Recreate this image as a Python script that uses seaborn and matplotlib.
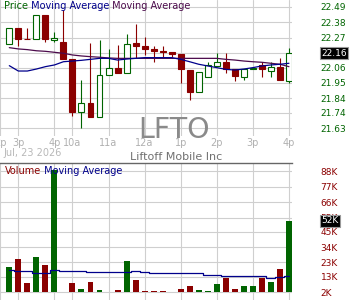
import matplotlib
matplotlib.use("Agg")
import numpy as np
import matplotlib.pyplot as plt
import seaborn as sns

# ================= data =================
opens = [22.225, 22.339, 22.264, 22.263, 22.433, 22.258, 22.239, 22.118, 21.742, 21.806,
         21.706, 22.005, 22.057, 22.019, 22.232, 22.213, 22.189, 22.177, 22.168, 22.154,
         22.042, 21.886, 21.990, 22.073, 22.097, 22.047, 21.995, 22.050, 22.078, 22.037,
         22.066, 21.966]
highs = [22.343, 22.339, 22.339, 22.433, 22.433, 22.312, 22.469, 22.118, 21.971, 22.236,
         22.255, 22.192, 22.220, 22.298, 22.367, 22.275, 22.215, 22.215, 22.168, 22.154,
         22.042, 22.026, 22.097, 22.165, 22.165, 22.047, 22.047, 22.057, 22.097, 22.097,
         22.125, 22.196]
lows = [22.225, 22.213, 22.262, 22.263, 22.239, 22.239, 22.123, 21.715, 21.628, 21.710,
        21.706, 22.005, 22.023, 22.019, 22.128, 22.149, 22.097, 22.137, 22.133, 21.948,
        21.829, 21.886, 21.990, 22.073, 22.023, 21.966, 21.971, 22.050, 21.990, 21.995,
        21.971, 21.948]
closes = [22.343, 22.263, 22.262, 22.433, 22.263, 22.272, 22.123, 21.746, 21.806, 21.710,
          22.005, 22.054, 22.023, 22.227, 22.215, 22.194, 22.177, 22.170, 22.154, 22.047,
          21.888, 22.026, 22.078, 22.097, 22.047, 22.000, 22.047, 22.057, 22.047, 22.066,
          21.971, 22.161]

ma_blue = [22.073, 22.035, 22.035, 22.049, 22.066, 22.078, 22.101, 22.106, 22.111, 22.118,
           22.125, 22.125, 22.113, 22.120, 22.125, 22.130, 22.130, 22.130, 22.130, 22.118,
           22.101, 22.083, 22.071, 22.059, 22.047, 22.042, 22.049, 22.059, 22.071, 22.078,
           22.083, 22.090]
ma_purple = [22.201, 22.192, 22.187, 22.179, 22.175, 22.168, 22.161, 22.149, 22.142, 22.137,
             22.133, 22.128, 22.125, 22.125, 22.125, 22.125, 22.125, 22.125, 22.125, 22.125,
             22.125, 22.125, 22.125, 22.125, 22.118, 22.113, 22.106, 22.101, 22.097, 22.090,
             22.083, 22.066]

volumes = [19800, 25500, 8400, 26900, 21200, 88500, 0, 8400, 4100, 9100,
           3400, 0, 3400, 24000, 10500, 2700, 2700, 2700, 0, 4100,
           6500, 3400, 2700, 7700, 12000, 4100, 6300, 6300, 12000, 9100,
           18600, 52700]
vol_ma = [17700, 16700, 16700, 15300, 15300, 17400, 16700, 16700, 16700, 16000,
          16000, 16000, 16000, 16000, 16700, 16000, 15300, 15300, 15300, 15300,
          15300, 15300, 13900, 13900, 13200, 13200, 13200, 13200, 13200, 12000,
          12700, 13400]

time_ticks = [-1, 1, 5, 7, 11, 15, 19, 23, 27, 31]
time_labels = ["2p", "3p", "4p", "10a", "11a", "12a", "1p", "2p", "3p", "4p"]
price_ticks = [22.49, 22.38, 22.27, 22.16, 22.06, 21.95, 21.84, 21.74, 21.63]
vol_ticks = [88000, 77000, 66000, 55000, 45000, 34000, 23000, 13000, 2000]
vol_labels = ["88K", "77K", "66K", "55K", "45K", "34K", "23K", "13K", "2K"]
last_price_label = "22.16"
last_vol_label = "52K"
vol_base = 2000
# ============================================================

GREEN = "#006400"
RED = "#8b0000"
NAVY = "#00008b"
PURPLE = "#4b0a4b"
GRID = "#cfcfcf"

sns.set_theme(style="white")
plt.rcParams["font.family"] = ["DejaVu Sans"]

W, H = 350, 300
fig = plt.figure(figsize=(3.5, 3.0), dpi=100, facecolor="white")

# pixel layout
plot_w = 292
ax = fig.add_axes([0, (H - 136) / H, plot_w / W, 136 / H])
axv = fig.add_axes([0, 0, plot_w / W, 137 / H])

x = np.arange(len(opens))
o = np.array(opens)
c = np.array(closes)
up = c >= o
edge = np.where(up, GREEN, RED)
face = np.where(up, "white", RED)

# price panel
ax.vlines(x, lows, highs, colors=edge, lw=0.8, zorder=3)
ax.bar(x, np.abs(c - o), bottom=np.minimum(o, c), width=0.66, color=face,
       edgecolor=edge, linewidth=0.8, zorder=4)
sns.lineplot(x=x, y=ma_purple, color=PURPLE, lw=0.9, ax=ax, zorder=5)
sns.lineplot(x=x, y=ma_blue, color=NAVY, lw=0.9, ax=ax, zorder=6)

ax.set_xlim(-1.031, 31.34)
ax.set_ylim(21.5732, 22.5397)
ax.set_xticks(time_ticks)
ax.set_xticklabels(time_labels)
ax.set_yticks(price_ticks)
ax.set_yticklabels([f"{v:.2f}" for v in price_ticks])
ax.yaxis.tick_right()
ax.tick_params(axis="y", length=0, pad=20.5, labelsize=6.5, labelcolor=GREEN)
ax.tick_params(axis="x", length=0, pad=1.5, labelsize=7, labelcolor="#b0b0b0")
ax.grid(True, color=GRID, lw=0.8)
ax.set_axisbelow(True)
for s in ax.spines.values():
    s.set_visible(False)
ax.set_xlabel("")
ax.set_ylabel("")

# watermark symbol, baseline near the bottom of the price panel
fig.text(174 / W, 1 - 138 / H, "LFTO", ha="center", va="baseline",
         fontsize=20.5, color="#8a8a8a", zorder=0.5)
ax.text(1 + 29 / plot_w, 22.161, last_price_label, transform=ax.get_yaxis_transform(),
        ha="left", va="center", fontsize=6.5, color="white", zorder=10,
        bbox=dict(boxstyle="square,pad=0.15", fc="black", ec="#999999", lw=0.8))

# volume panel
vol = np.array(volumes)
axv.bar(x, np.clip(vol - vol_base, 0, None), bottom=vol_base, width=0.66,
        color=edge, linewidth=0, zorder=3)
sns.lineplot(x=x, y=vol_ma, color=NAVY, lw=0.9, ax=axv, drawstyle="steps-mid", zorder=5)
axv.set_xlim(-1.031, 31.34)
axv.set_ylim(-3690, 93800)
axv.set_xticks(time_ticks)
axv.set_xticklabels([])
axv.set_yticks(vol_ticks)
axv.set_yticklabels(vol_labels)
axv.yaxis.tick_right()
axv.tick_params(axis="y", length=0, pad=20.5, labelsize=6.5, labelcolor=RED)
axv.tick_params(axis="x", length=0)
axv.grid(True, color=GRID, lw=0.8)
axv.set_axisbelow(True)
for name, s in axv.spines.items():
    s.set_visible(name == "top")
axv.spines["top"].set_color("#666666")
axv.spines["top"].set_linewidth(1.0)
axv.set_xlabel("")
axv.set_ylabel("")
axv.text(1 + 29 / plot_w, volumes[-1], last_vol_label, transform=axv.get_yaxis_transform(),
         ha="left", va="center", fontsize=6.5, color="white", zorder=10,
         bbox=dict(boxstyle="square,pad=0.15", fc="black", ec="#999999", lw=0.8))

# titles and captions
t = fig.text(4 / W, 1 - 6 / H, "Price", color=GREEN, fontsize=7, va="center")
t = ax.annotate(" Moving Average", xy=(1, 0), xycoords=t, va="bottom", color=NAVY, fontsize=7)
ax.annotate(" Moving Average", xy=(1, 0), xycoords=t, va="bottom", color=PURPLE, fontsize=7)

t = fig.text(5 / W, 1 - 171 / H, "Volume", color=RED, fontsize=7, va="center")
axv.annotate(" Moving Average", xy=(1, 0), xycoords=t, va="bottom", color=NAVY, fontsize=7)

fig.text(3 / W, 1 - 153 / H, "Jul, 23 2026", color="#b8b8b8", fontsize=7, va="center")
fig.text(176.5 / W, 1 - 157 / H, "Liftoff Mobile Inc", color="#707070", fontsize=8,
         ha="center", va="center")

fig.savefig("out.png", dpi=100, facecolor="white")
